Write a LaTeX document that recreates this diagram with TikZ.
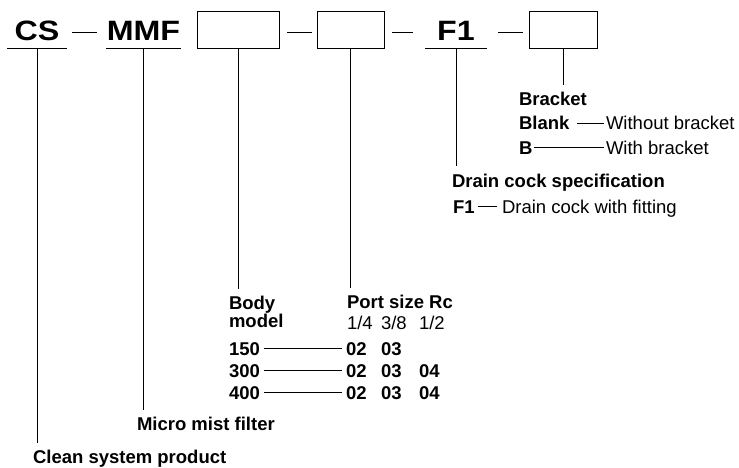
\documentclass[tikz,border=0pt]{standalone}
\usepackage{fontspec}
\setmainfont{Liberation Sans}
\newfontfamily\codefont[FakeStretch=1.15]{Liberation Sans}
\usepackage{tikz}
\usetikzlibrary{positioning}

\begin{document}
\begin{tikzpicture}[x=1pt, y=-1pt,
    line width=0.8pt,
 code/.style = {anchor=base, font=\codefont\bfseries\fontsize{28}{30}\selectfont,
                inner sep=0pt, outer sep=0pt, text depth=7pt},% code letters, underlined
  box/.style = {rectangle, draw, minimum height=37pt,
                inner sep=0pt, outer sep=0pt},% empty boxes of the code
    T/.style = {anchor=base west, inner sep=0pt, outer sep=0pt,
                text height=13.5pt, text depth=0pt,
                font=\fontsize{18.5}{20}\selectfont},
    H/.style = {T, font=\bfseries\fontsize{18.5}{20}\selectfont},
 down/.style = {shorten >=7pt},
                    ]
\useasboundingbox (0,0) rectangle (739,468);
% code row
\node[code, minimum width=60pt] (cs)  at (37,41)    {CS};
\node[code, minimum width=75pt] (mmf) at (143.5,41) {MMF};
\node[code, minimum width=62pt] (f1)  at (456,41)   {F1};
\node[box, minimum width=82pt] (body) at (238,29.5)   {};
\node[box, minimum width=67pt] (port) at (350.5,29.5) {};
\node[box, minimum width=68pt] (brk)  at (563,29.5)   {};
\foreach \c in {cs,mmf,f1}
    \draw (\c.south west) -- (\c.south east);
\foreach \a/\b in {72/97,287/312,392/413,498/523}% <-- dashes between code parts
    \draw (\a,32) -- (\b,32);
% bracket
\node[H] (brkT)  at (519,106) {Bracket};
\node[H] (blank) at (519,130) {Blank};
\node[T] (wo)    at (606,130) {Without bracket};
\node[H] (bb)    at (519,154) {B};
\node[T] (wi)    at (606,154) {With bracket};
\draw ([xshift=8pt]blank.east) -- ([xshift=-2pt]wo.west);
\draw ([xshift=2pt]bb.east) -- ([xshift=-2pt]wi.west);
% drain cock
\node[H] (drain) at (452,187) {Drain cock specification};
\node[H] (f1c)   at (453,213) {F1};
\node[T] (f1t)   at (502,213) {Drain cock with fitting};
\draw[shorten <=3pt, shorten >=5pt] (f1c) -- (f1t);
% body model and port size
\node[H] (bodyT)  at (229,309) {Body};
\node[H] (modelT) at (229,327) {model};
\node[H] (portT)  at (347,308) {Port size Rc};
\node[T] (sz1) at (347,329) {1/4};
\node[T] (sz2) at (381,329) {3/8};
\node[T] (sz3) at (419,329) {1/2};
\foreach \m/\y in {150/355,300/377,400/399}
  {
    \node[H] (m\m) at (229,\y) {\m};
    \node[H] (p\m) at (346,\y) {02};
    \node[H] (q\m) at (381,\y) {03};
    \draw[shorten <=4pt, shorten >=4pt] (m\m) -- (p\m);
  }
\node[H] (r300) at (419,377) {04};
\node[H] (r400) at (419,399) {04};
% descriptions
\node[H] (micro) at (137,430) {Micro mist filter};
\node[H] (clean) at (33,463)  {Clean system product};
% leaders from code to description
\draw[down] (cs.south)   -- (cs.south |- clean.north);
\draw[down] (mmf.south)  -- (mmf.south |- micro.north);
\draw[down] (body.south) -- (body.south |- bodyT.north);
\draw[down] (port.south) -- (port.south |- portT.north);
\draw[down] (f1.south)   -- (f1.south |- drain.north);
\draw[down] (brk.south)  -- (brk.south |- brkT.north);
\end{tikzpicture}
\end{document}
